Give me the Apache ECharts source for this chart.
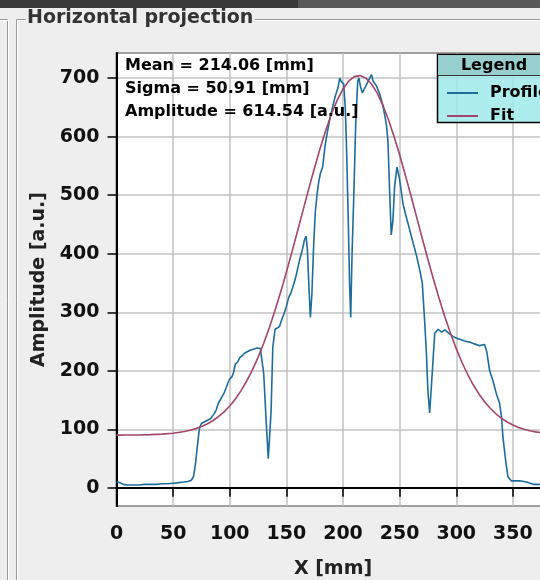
<!DOCTYPE html>
<html><head><meta charset="utf-8">
<script src="https://cdn.jsdelivr.net/npm/echarts@6/dist/echarts.min.js"></script>
<style>html,body{margin:0;padding:0;background:#eeeeee;} #c{width:540px;height:580px;}</style>
</head><body><div id="c"></div>
<script>
// ---- data ----
const panelTitle = 'Horizontal projection';
const xAxisName = 'X [mm]';
const yAxisName = 'Amplitude [a.u.]';
const seriesNames = ['Profile', 'Fit'];
const statNames = ['Mean', 'Sigma', 'Amplitude'];
const statValues = ['214.06', '50.91', '614.54'];
const statUnits = ['[mm]', '[mm]', '[a.u.]'];

const profileX = [0,3,6,10,15,20,25,30,35,40,
  45,50,55,60,63,66,68,70,71,72.5,
  73.5,75,77,80,83,86,88,90,91.5,93,
  95,97,98.5,100,102,103.5,105,107,109,111,
  113,115,118,121,124,127,128.5,130,132,134,
  135,136.5,138,140,142,144,146,148,150,152,
  154,156,158,160,162,164,166,167.3,168.5,170,
  171.2,172.5,174,175.5,177,178.5,180,182,184,185.5,
  188.3,190.5,192.7,195.6,197.1,198.6,200.6,202,203,204.5,
  205.8,206.8,208,209.4,211.2,213,214.1,215.4,217,218.3,
  220,222,224,225.2,226.5,229.5,232.4,235,237,238.5,
  239.7,241.2,242.6,244.1,245.6,247.7,250,253,256,259,
  262,265,268,270,272,273.6,275,276.5,278,279.5,
  281,284,287,290,294,298.6,303,307.4,311.8,316,
  320.6,325,327,329.5,332.4,335.4,338.3,340,341.2,343.6,
  345.6,348.6,356,362,368,372,380];
const profileY = [10,9,6,5,5,5,6,6,6,7,
  7,8,9,10,11,13,19,45,64,90,
  104,110,112,115,118,126,133,145,150,155,
  162,172,180,186,190,198,212,215,223,226,
  230,232,235,237,239,238,237,195,120,50,
  48,130,240,271,273,276,288,298,310,325,
  333,345,358,375,392,406,424,430,410,340,
  291,330,410,470,500,522,537,548,582,600,
  630,648,666,684,700,694,690,650,590,470,
  350,291,400,490,620,695,700,686,675,672,
  686,694,702,706,695,687,673,655,635,618,
  592,505,432,458,516,548,527,485,462,440,
  418,396,370,350,288,232,165,128,172,218,
  264,271,266,270,263,257,254,251,249,246,
  243,245,232,200,183,161,144,121,87,47,
  19,12,12,10,6,6,5];

const fitX = [0,10,20,30,40,50,60,
  65,70,75,80,85,90,95,100,105,110,
  115,120,125,130,135,140,145,150,155,160,
  165,170,175,180,185,190,195,200,205,210,
  215,220,225,230,235,240,245,250,255,260,
  265,270,275,280,285,290,295,300,305,310,
  315,320,325,330,335,340,345,350,355,360,
  365,370,375,380,385,390,395,400];
const fitY = [90.1,90.2,90.4,90.9,91.8,93.4,96.3,
  98.5,101.2,104.7,109.2,114.7,121.6,129.9,139.9,151.9,166.1,
  182.6,201.5,223.0,247.2,274.0,303.3,334.9,368.5,403.6,439.7,
  476.3,512.6,547.8,581.3,612.1,639.6,662.9,681.6,694.9,702.6,
  704.4,700.4,690.5,675.2,654.7,629.8,600.9,569.0,534.7,499.0,
  462.5,426.0,390.2,355.6,322.8,292.0,263.6,237.8,214.6,194.1,
  176.1,160.5,147.2,136.0,126.6,118.8,112.5,107.4,103.3,100.1,
  97.6,95.6,94.2,93.0,92.1,91.6,91.0,90.8];

const xMin = 0, xMax = 400, xStep = 50;
const yMin = -31, yMax = 743;

// ---- chart ----
const FONT = 'DejaVu Sans';
const blue = '#1d6d9c';
const rose = '#a3456a';
const statsText = statNames.map((n, i) => n + ' = ' + statValues[i] + ' ' + statUnits[i]).join('\n');

const chart = echarts.init(document.getElementById('c'), null, {renderer: 'canvas'});
const option = {
  backgroundColor: '#eeeeee',
  animation: false,
  title: [
    {text: panelTitle, left: 27, top: 9, padding: 0,
     textStyle: {fontFamily: FONT, fontWeight: 'bold', fontSize: 19, color: '#333'}},
    {text: statsText, left: 125, top: 54, padding: 0, z: 6,
     textStyle: {fontFamily: FONT, fontWeight: 'bold', fontSize: 16, lineHeight: 23, color: '#000'}}
  ],
  legend: {
    data: seriesNames, orient: 'vertical', left: 442, top: 78, z: 8,
    icon: 'rect', itemWidth: 31, itemHeight: 2, itemGap: 3,
    textStyle: {fontFamily: FONT, fontWeight: 'bold', fontSize: 16, lineHeight: 20, color: '#000', padding: [0, 0, 0, 7]}
  },
  grid: {left: 116.5, top: 53, width: 453, height: 453, show: true, backgroundColor: '#ffffff',
         borderColor: '#000', borderWidth: 1.5, containLabel: false, outerBoundsMode: 'none'},
  xAxis: {
    type: 'value', min: xMin, max: xMax, interval: xStep,
    name: xAxisName, nameLocation: 'middle', nameGap: 54,
    nameTextStyle: {fontFamily: FONT, fontWeight: 'bold', fontSize: 19, color: '#222', padding: [0, 20, 0, 0]},
    axisLine: {lineStyle: {color: '#000', width: 2}},
    axisTick: {length: 9, lineStyle: {color: '#000', width: 1.5}},
    axisLabel: {margin: 19, fontFamily: FONT, fontWeight: 'bold', fontSize: 19, color: '#111'},
    splitLine: {show: true, lineStyle: {color: '#c2c2c2', width: 1.5}}
  },
  yAxis: {
    type: 'value', min: yMin, max: yMax, splitNumber: 8,
    name: yAxisName, nameLocation: 'middle', nameGap: 64,
    nameTextStyle: {fontFamily: FONT, fontWeight: 'bold', fontSize: 19, color: '#222'},
    axisLine: {show: true, lineStyle: {color: '#000', width: 2}},
    axisTick: {show: true, length: 9, lineStyle: {color: '#000', width: 1.5}},
    axisLabel: {margin: 17, fontFamily: FONT, fontWeight: 'bold', fontSize: 19, color: '#111',
                showMinLabel: false, showMaxLabel: false,
                formatter: v => (v % 100 === 0 ? String(v) : '')},
    splitLine: {show: true, lineStyle: {color: '#c2c2c2', width: 1.5}}
  },
  graphic: [
    {type: 'rect', shape: {x: 0, y: 0, width: 540, height: 8}, style: {fill: '#3a3a3a'}, silent: true},
    {type: 'rect', shape: {x: 298, y: 0, width: 242, height: 8}, style: {fill: '#585858'}, silent: true},
    {type: 'polyline', shape: {points: [[0, 19.5], [7.5, 19.5], [7.5, 580]]}, style: {stroke: '#9a9a9a', lineWidth: 1, fill: null}, silent: true},
    {type: 'polyline', shape: {points: [[0, 20.5], [8.5, 20.5], [8.5, 580]]}, style: {stroke: '#ffffff', lineWidth: 1, fill: null}, silent: true},
    {type: 'polyline', shape: {points: [[16.5, 580], [16.5, 19.5], [26, 19.5]]}, style: {stroke: '#9a9a9a', lineWidth: 1, fill: null}, silent: true},
    {type: 'polyline', shape: {points: [[17.5, 580], [17.5, 20.5], [26, 20.5]]}, style: {stroke: '#ffffff', lineWidth: 1, fill: null}, silent: true},
    {type: 'line', shape: {x1: 255, y1: 19.5, x2: 540, y2: 19.5}, style: {stroke: '#9a9a9a', lineWidth: 1}, silent: true},
    {type: 'line', shape: {x1: 255, y1: 20.5, x2: 540, y2: 20.5}, style: {stroke: '#ffffff', lineWidth: 1}, silent: true},
    // legend box
    {type: 'rect', z: 5, shape: {x: 437.5, y: 54.5, width: 120, height: 68}, style: {fill: 'rgba(160,234,234,0.85)', stroke: '#000', lineWidth: 1.5}, silent: true},
    {type: 'rect', z: 5, shape: {x: 438, y: 55, width: 119, height: 20.5}, style: {fill: 'rgba(150,204,204,0.9)'}, silent: true},
    {type: 'line', z: 5, shape: {x1: 437.5, y1: 75.5, x2: 560, y2: 75.5}, style: {stroke: '#333', lineWidth: 1}, silent: true},
    {type: 'text', z: 6, style: {text: 'Legend', x: 494, y: 65.5, align: 'center', verticalAlign: 'middle',
      font: 'bold 16px "DejaVu Sans"', fill: '#000'}, silent: true}
  ],
  series: [
    {name: seriesNames[0], type: 'line', showSymbol: false, symbol: 'none', z: 3,
     data: profileX.map((x, i) => [x, profileY[i]]),
     lineStyle: {color: blue, width: 1.6}, itemStyle: {color: blue}},
    {name: seriesNames[1], type: 'line', showSymbol: false, symbol: 'none', z: 3,
     data: fitX.map((x, i) => [x, fitY[i]]),
     lineStyle: {color: rose, width: 1.6}, itemStyle: {color: rose}}
  ]
};
chart.setOption(option);
</script>
</body></html>
